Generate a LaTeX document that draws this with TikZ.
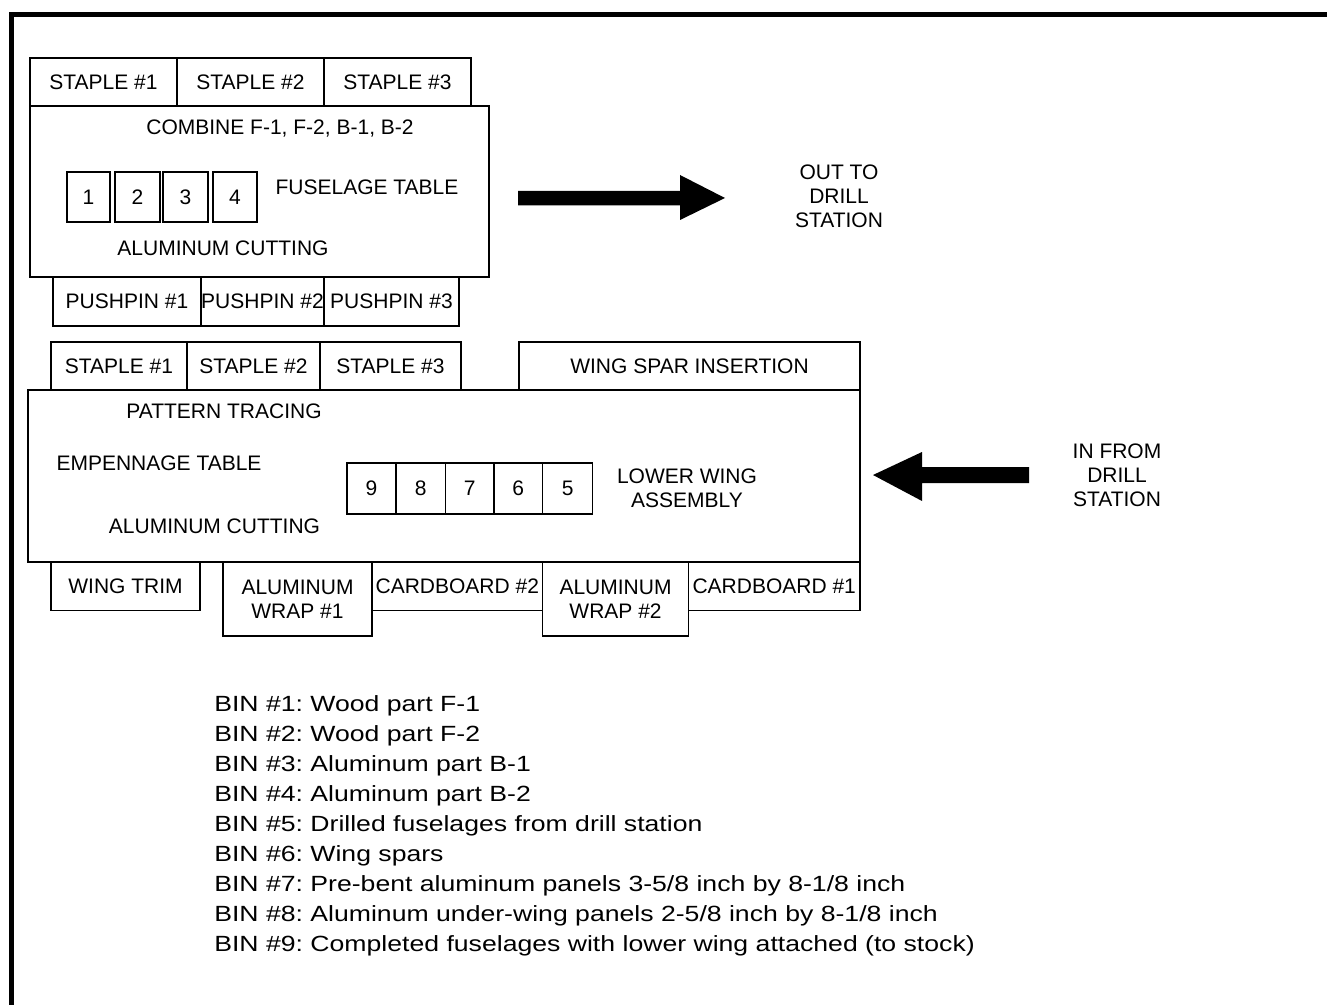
\documentclass[tikz,border=0pt]{standalone}
\usepackage{fontspec}
\setmainfont{Liberation Sans}
\newfontfamily\legfont[FakeStretch=1.21]{Liberation Sans}
\frenchspacing
\begin{document}
\begin{tikzpicture}[x=0.75pt,y=-0.75pt,
  box/.style={draw, line width=1.1pt, inner sep=0pt, outer sep=0pt, align=center,
    font=\fontsize{15.75}{18}\selectfont},
  lbl/.style={inner sep=0pt, align=center, font=\fontsize{15.75}{18}\selectfont},
  leg/.style={inner sep=0pt, anchor=base west, font=\legfont\fontsize{16.5}{22.5}\selectfont},
  bigarrow/.style={fill=black}]
\useasboundingbox (0,0) rectangle (1327,1005);
\newcommand\bx[6]{\node[box, minimum width={(#4-#2)*0.75pt}, minimum height={(#5-#3)*0.75pt}] (#1) at ({(#2+#4)/2},{(#3+#5)/2}) {#6};}
% frame
\draw[line width=3.75pt] (11.5,1005) -- (11.5,14.5) -- (1327,14.5);
% ---------- fuselage table ----------
\bx{st1}{30}{58}{177}{106}{STAPLE \#1}
\bx{st2}{177}{58}{324}{106}{STAPLE \#2}
\bx{st3}{324}{58}{471}{106}{STAPLE \#3}
\bx{fus}{30}{106}{489}{277}{}
\bx{pp1}{53}{277}{201}{326}{PUSHPIN \#1}
\bx{pp2}{201}{277}{324}{326}{PUSHPIN \#2}
\bx{pp3}{324}{277}{459}{326}{PUSHPIN \#3}
\bx{b1}{67}{172}{110}{222}{1}
\bx{b2}{115}{172}{160}{222}{2}
\bx{b3}{163}{172}{208}{222}{3}
\bx{b4}{213}{172}{257}{222}{4}
\node[lbl] (comb) at (280,129) {COMBINE F-1, F-2, B-1, B-2};
\node[lbl] (fust) at (367,187) {FUSELAGE TABLE};
\node[lbl] (alc1) at (223,248) {ALUMINUM CUTTING};
% out arrow
\fill[bigarrow] (518,191) -- (680,191) -- (680,175) -- (725,198) -- (680,220) -- (680,205.5) -- (518,205.5) -- cycle;
\node[lbl] (out) at (839,196) {OUT TO\\DRILL\\STATION};
% ---------- empennage table ----------
\bx{st4}{51}{342}{187}{390}{STAPLE \#1}
\bx{st5}{187}{342}{320}{390}{STAPLE \#2}
\bx{st6}{320}{342}{461}{390}{STAPLE \#3}
\bx{wsi}{519}{342}{860}{390}{WING SPAR INSERTION}
\bx{emp}{28}{390}{860}{562}{}
\bx{b9}{347}{463}{396}{514}{9}
\bx{b8}{396}{463}{445.5}{514}{8}
\bx{b7}{445.5}{463}{494}{514}{7}
\bx{b6}{494}{463}{542.6}{514}{6}
\bx{b5}{542.6}{463}{592.6}{514}{5}
\node[lbl] (pat) at (224,411) {PATTERN TRACING};
\node[lbl] (empt) at (159,463) {EMPENNAGE TABLE};
\node[lbl] (alc2) at (214.5,526) {ALUMINUM CUTTING};
\node[lbl] (lwa) at (687,488) {LOWER WING\\ASSEMBLY};
\bx{wt}{51}{562}{200}{610.5}{WING TRIM}
\bx{aw1}{223}{562}{372}{636}{ALUMINUM\\WRAP \#1}
\bx{cb2}{372}{562}{542.6}{610.5}{CARDBOARD \#2}
\bx{aw2}{542.6}{562}{688.5}{636}{ALUMINUM\\WRAP \#2}
\bx{cb1}{688.5}{562}{860}{610.5}{CARDBOARD \#1}
% in arrow
\fill[bigarrow] (1029,467) -- (922,467) -- (922,452) -- (873,475) -- (922,501) -- (922,483) -- (1029,483) -- cycle;
\node[lbl] (in) at (1117,475) {IN FROM\\DRILL\\STATION};
% ---------- legend ----------
\node[leg] (l1) at (214,711) {BIN \#1: Wood part F-1};
\node[leg] (l2) at (214,741) {BIN \#2: Wood part F-2};
\node[leg] (l3) at (214,771) {BIN \#3: Aluminum part B-1};
\node[leg] (l4) at (214,801) {BIN \#4: Aluminum part B-2};
\node[leg] (l5) at (214,831) {BIN \#5: Drilled fuselages from drill station};
\node[leg] (l6) at (214,861) {BIN \#6: Wing spars};
\node[leg] (l7) at (214,891) {BIN \#7: Pre-bent aluminum panels 3-5/8 inch by 8-1/8 inch};
\node[leg] (l8) at (214,921) {BIN \#8: Aluminum under-wing panels 2-5/8 inch by 8-1/8 inch};
\node[leg] (l9) at (214,951) {BIN \#9: Completed fuselages with lower wing attached (to stock)};
\end{tikzpicture}
\end{document}
